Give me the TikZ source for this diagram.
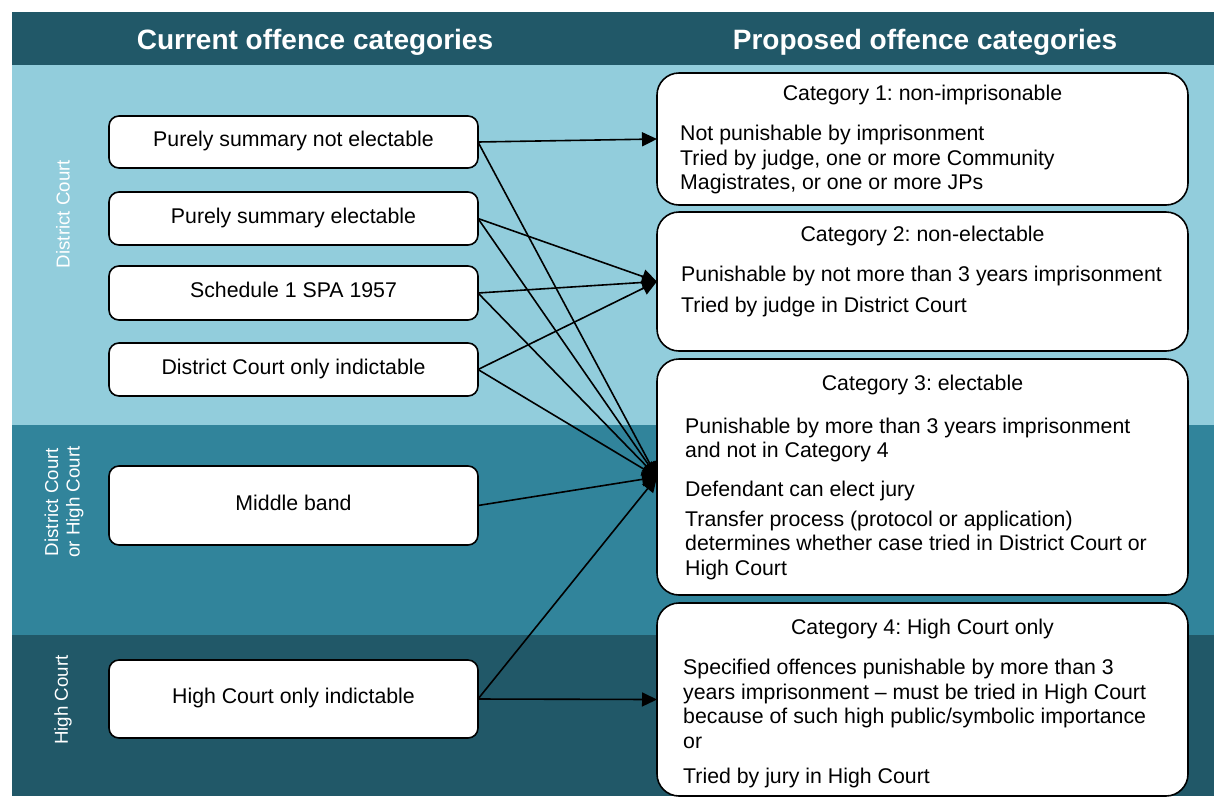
\documentclass[tikz,border=0pt]{standalone}
\usepackage{fontspec}
\setmainfont{Liberation Sans}
\usetikzlibrary{positioning,arrows.meta}

\definecolor{bandlight}{HTML}{92CDDC}
\definecolor{bandmid}{HTML}{31849B}
\definecolor{banddark}{HTML}{215868}

\frenchspacing

\begin{document}
\begin{tikzpicture}[x=1pt,y=-1pt,
  offence/.style={draw,fill=white,line width=1.6pt,rounded corners=10pt,
    minimum width=369pt,inner sep=0pt,outer sep=0pt,font=\fontsize{21.3}{24.5}\selectfont,
    execute at begin node=\strut},
  category/.style={draw,fill=white,line width=1.6pt,rounded corners=22pt,
    minimum width=531pt,inner sep=0pt,outer sep=0pt},
  cat title/.style={anchor=base,inner sep=0pt,font=\fontsize{21.3}{24.5}\selectfont},
  cat text/.style={anchor=north west,inner sep=0pt,align=left,
    font=\fontsize{21.3}{24.5}\selectfont,execute at begin node=\strut},
  heading/.style={anchor=base,text=white,font=\bfseries\fontsize{28}{32}\selectfont},
  court/.style={rotate=90,text=white,align=center,font=\fontsize{18.7}{21.5}\selectfont},
  link/.style={line width=1.6pt,-{Triangle[length=15pt,width=14pt]}}]

  \useasboundingbox (0,0) rectangle (1214,796);

  % background bands
  \fill[banddark] (12,12) rectangle (1214,65);
  \fill[bandlight] (12,65) rectangle (1214,425);
  \fill[bandmid] (12,425) rectangle (1214,635);
  \fill[banddark] (12,635) rectangle (1214,796);

  \node[heading] (curhead) at (315,49) {Current offence categories};
  \node[heading] (prophead) at (925,49) {Proposed offence categories};

  \node[court] (dc) at (63,214) {District Court};
  \node[court] (dchc) at (64,502) {District Court\\or High Court};
  \node[court] (hc) at (63,700) {High Court};

  % current categories
  \node[offence,minimum height=52pt] (1) at (293.5,142) {Purely summary not electable};
  \node[offence,minimum height=53pt] (2) [below=24pt of 1] {Purely summary electable};
  \node[offence,minimum height=54pt] (3) [below=21pt of 2] {Schedule 1 SPA 1957};
  \node[offence,minimum height=53pt] (4) [below=23pt of 3] {District Court only indictable};
  \node[offence,minimum height=79pt] (5) [below=70pt of 4] {Middle band};
  \node[offence,minimum height=78pt] (6) [below=115pt of 5] {High Court only indictable};

  % proposed categories
  \node[category,minimum height=132pt] (c1) at (922.5,139) {};
  \node[category,minimum height=139pt] (c2) [below=7pt of c1] {};
  \node[category,minimum height=236pt] (c3) [below=8pt of c2] {};
  \node[category,minimum height=193pt] (c4) [below=8pt of c3] {};

  \node[cat title] (t1) at (922.5,100.7) {Category 1: non-imprisonable};
  \node[cat text] (d1) at (680,125) {Not punishable by imprisonment\\
    Tried by judge, one or more Community\\
    Magistrates, or one or more JPs};

  \node[cat title] (t2) at (922.5,241.7) {Category 2: non-electable};
  \node[cat text] (d2) at (681,265.5) {Punishable by not more than 3 years imprisonment\\[6.5pt]
    Tried by judge in District Court};

  \node[cat title] (t3) at (922.5,390.5) {Category 3: electable};
  \node[cat text] (d3) at (685,417.5) {Punishable by more than 3 years imprisonment\\
    and not in Category 4\\[14.6pt]
    Defendant can elect jury\\[4.8pt]
    Transfer process (protocol or application)\\
    determines whether case tried in District Court or\\
    High Court};

  \node[cat title] (t4) at (922.5,634.5) {Category 4: High Court only};
  \node[cat text] (d4) at (683,659) {Specified offences punishable by more than 3\\
    years imprisonment -- must be tried in High Court\\
    because of such high public/symbolic importance\\
    or\\[11.2pt]
    Tried by jury in High Court};

  % links
  \draw[link] (1.east) -- (c1.west);
  \draw[link] (1.east) -- (c3.west);
  \draw[link] (2.east) -- (c2.west);
  \draw[link] (2.east) -- (c3.west);
  \draw[link] (3.east) -- (c2.west);
  \draw[link] (3.east) -- (c3.west);
  \draw[link] (4.east) -- (c2.west);
  \draw[link] (4.east) -- (c3.west);
  \draw[link] (5.east) -- (c3.west);
  \draw[link] (6.east) -- (c3.west);
  \draw[link] (6.east) -- (c4.west);
\end{tikzpicture}
\end{document}
